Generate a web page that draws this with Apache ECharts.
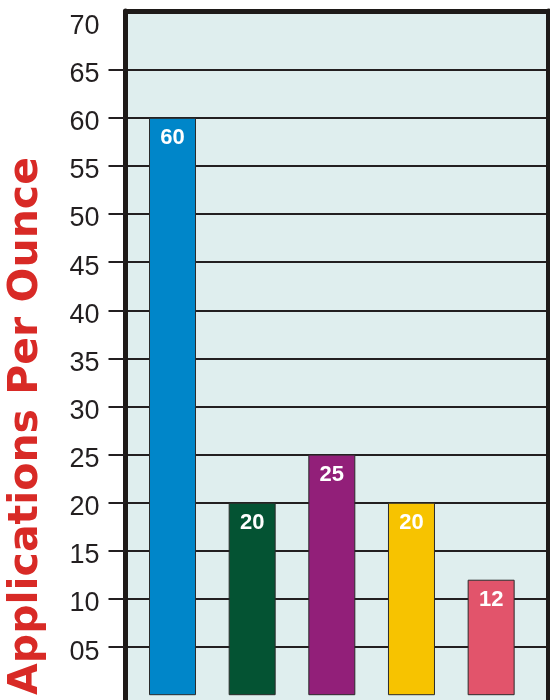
<!DOCTYPE html>
<html>
<head>
<meta charset="utf-8">
<script src="https://cdn.jsdelivr.net/npm/echarts@6/dist/echarts.min.js"></script>
<style>
  html, body { margin: 0; padding: 0; background: #fff; }
  #chart { width: 550px; height: 700px; }
</style>
</head>
<body>
<div id="chart"></div>
<script>
// values
const barPos = [1, 2, 3, 4, 5];
const barValues = [60, 20, 25, 20, 12];
const barColors = ['#0086c9', '#045333', '#921f79', '#f7c300', '#e2546b'];
const tickValues = [5, 10, 15, 20, 25, 30, 35, 40, 45, 50, 55, 60, 65];
const labelValues = [5, 10, 15, 20, 25, 30, 35, 40, 45, 50, 55, 60, 65, 70];
const axisTitle = 'Applications Per Ounce';

const frameColor = '#1e1a18';
const chart = echarts.init(document.getElementById('chart'));

const option = {
    animation: false,
    grid: {
        show: true,
        left: 125.5,
        right: 1.5,
        top: 11,
        bottom: 0,
        backgroundColor: '#dfeeee',
        borderWidth: 0
    },
    xAxis: {
        type: 'value',
        min: 0.41,
        max: 5.72,
        position: 'top',
        axisLine: { show: true, onZero: false, lineStyle: { color: frameColor, width: 5 } },
        axisTick: { show: false },
        axisLabel: { show: false },
        splitLine: { show: false }
    },
    yAxis: [{
        type: 'value',
        min: -0.5,
        max: 71.1,
        axisLine: { show: true, onZero: false, lineStyle: { color: frameColor, width: 5 } },
        axisTick: {
            show: true,
            customValues: tickValues,
            length: 17,
            lineStyle: { color: '#231f20', width: 2 }
        },
        axisLabel: {
            customValues: labelValues,
            margin: 26,
            formatter: v => '{a|' + String(v).padStart(2, '0') + '}',
            rich: {
                a: {
                    fontFamily: 'Liberation Sans',
                    fontSize: 27,
                    color: '#231f20',
                    padding: [10, 0, 0, 0]
                }
            }
        },
        splitLine: {
            show: true,
            lineStyle: { color: '#231f20', width: 2 }
        }
    }, {
        type: 'value',
        position: 'right',
        min: -0.5,
        max: 71.1,
        axisLine: { show: true, onZero: false, lineStyle: { color: frameColor, width: 5 } },
        axisTick: { show: false },
        axisLabel: { show: false },
        splitLine: { show: false }
    }],
    series: [{
        type: 'bar',
        barWidth: 47,
        data: barValues.map((v, i) => ({
            value: [barPos[i], v],
            itemStyle: { color: barColors[i] }
        })),
        itemStyle: { borderColor: '#2b2b2b', borderWidth: 1 },
        label: {
            show: true,
            position: 'insideTop',
            distance: 9,
            color: '#fff',
            fontWeight: 'bold',
            fontSize: 22,
            fontFamily: 'Liberation Sans',
            formatter: p => p.value[1]
        }
    }],
    graphic: [{
        type: 'text',
        x: 27,
        y: 426,
        rotation: Math.PI / 2,
        scaleX: 1.025,
        style: {
            text: axisTitle,
            fill: '#d82a26',
            font: 'bold 40px "DejaVu Sans"',
            align: 'center',
            verticalAlign: 'middle'
        }
    }]
};

chart.setOption(option);
</script>
</body>
</html>
